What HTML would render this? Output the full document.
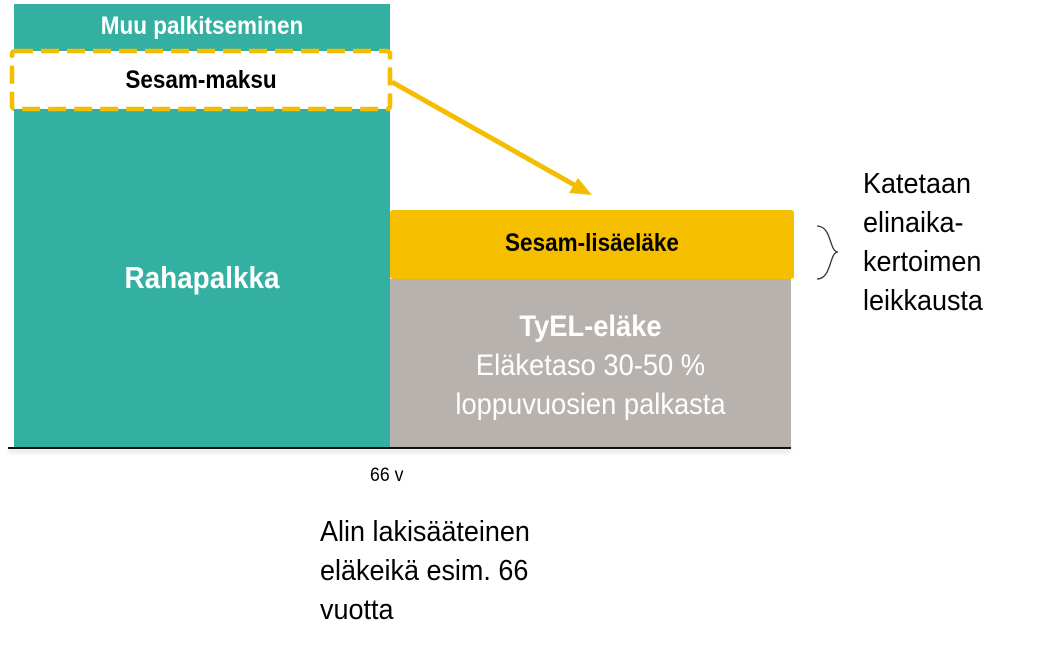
<!DOCTYPE html>
<html><head><meta charset="utf-8"><style>
body{margin:0;width:1043px;height:649px;background:#fff;position:relative;overflow:hidden;font-family:"Liberation Sans",sans-serif}
.a{position:absolute}
.c{text-align:center;transform:scaleX(.9);transform-origin:center}
.l{transform:scaleX(.93);transform-origin:left}
</style></head><body>
<div class="a" style="left:14px;top:4px;width:376px;height:444px;background:#33b0a1"></div>
<div class="a c" style="left:14px;top:12px;width:376px;font-size:25px;font-weight:bold;color:#fff">Muu palkitseminen</div>
<svg class="a" style="left:0;top:0" width="400" height="120">
<rect x="12" y="51" width="378" height="58" rx="3" fill="#fff" stroke="#f5bd00" stroke-width="4.5" stroke-dasharray="18,8"/>
</svg>
<div class="a c" style="left:14px;top:66px;width:374px;font-size:25px;font-weight:bold;color:#000">Sesam-maksu</div>
<div class="a c" style="left:14px;top:260px;width:376px;font-size:31px;font-weight:bold;color:#fff">Rahapalkka</div>
<div class="a" style="left:390px;top:210px;width:404px;height:69px;background:#f5bf00;border-radius:3px"></div>
<div class="a c" style="left:390px;top:229px;width:404px;font-size:25px;font-weight:bold;color:#000">Sesam-lisäeläke</div>
<div class="a" style="left:390px;top:279px;width:401px;height:169px;background:#b7b2ae"></div>
<div class="a c" style="left:390px;top:307px;width:401px;font-size:30px;color:#fff;line-height:39px;transform:scaleX(.91)"><b>TyEL-eläke</b><br>Eläketaso 30-50 %<br>loppuvuosien palkasta</div>
<div class="a" style="left:8px;top:447px;width:783px;height:2px;background:#111;box-shadow:0 3px 4px rgba(0,0,0,.2)"></div>
<div class="a l" style="left:370px;top:465px;font-size:19px;color:#000">66 v</div>
<div class="a l" style="left:320px;top:513px;font-size:29px;line-height:39px;color:#000;white-space:nowrap">Alin lakisääteinen<br>eläkeikä esim. 66<br>vuotta</div>
<div class="a l" style="left:863px;top:165px;font-size:29px;line-height:39px;color:#000;white-space:nowrap">Katetaan<br>elinaika-<br>kertoimen<br>leikkausta</div>
<svg class="a" style="left:0;top:0" width="1043" height="649">
<line x1="392" y1="82" x2="578" y2="187" stroke="#f5bd00" stroke-width="5"/>
<polygon points="592,195 569,193 578,178" fill="#f5bd00"/>
<path d="M817,226 C832,226 829,252 838,252 C829,252 832,279 817,279" fill="none" stroke="#333" stroke-width="1.3"/>
</svg>
</body></html>
